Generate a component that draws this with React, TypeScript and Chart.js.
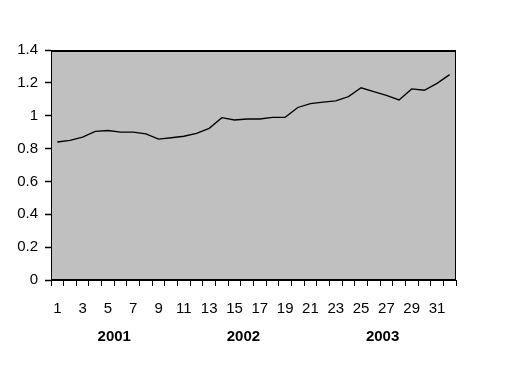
import React, { useEffect, useRef } from "react";
import { Chart, registerables } from "chart.js";

Chart.register(...registerables);

const periods: string[] = Array.from({ length: 32 }, (_, i) => String(i + 1));
const values: number[] = [
  0.84, 0.85, 0.87, 0.905, 0.91, 0.9, 0.9, 0.89, 0.858, 0.866, 0.875, 0.893,
  0.923, 0.988, 0.974, 0.98, 0.98, 0.99, 0.99, 1.05, 1.073, 1.083, 1.09, 1.116,
  1.17, 1.146, 1.124, 1.096, 1.163, 1.155, 1.197, 1.25,
];
const years: string[] = ["2001", "2002", "2003"];
const yearCenters: number[] = [4.5, 14.7, 25.7];

const FONT = "'Liberation Sans Narrow', 'Arial Narrow', 'Liberation Sans', Arial, sans-serif";

const areaPlugin = {
  id: "areaPlugin",
  beforeDraw(chart: any) {
    const { ctx, chartArea: a } = chart;
    ctx.save();
    ctx.fillStyle = "#ffffff";
    ctx.fillRect(0, 0, chart.width, chart.height);
    ctx.fillStyle = "#c0c0c0";
    ctx.fillRect(a.left, a.top, a.right - a.left, a.bottom - a.top);
    ctx.restore();
  },
  afterDatasetsDraw(chart: any) {
    const { ctx, chartArea: a } = chart;
    ctx.save();
    ctx.strokeStyle = "#000";
    ctx.lineWidth = 1;
    ctx.strokeRect(a.left + 0.5, a.top + 0.5, a.right - a.left - 1, a.bottom - a.top - 1);
    ctx.lineWidth = 2;
    ctx.beginPath();
    ctx.moveTo(a.left, a.top + 1);
    ctx.lineTo(a.right, a.top + 1);
    ctx.stroke();
    ctx.restore();
  },
  afterDraw(chart: any) {
    const { ctx } = chart;
    const xs = chart.scales.x;
    ctx.save();
    ctx.fillStyle = "#000";
    ctx.font = "bold 15px " + FONT;
    ctx.textAlign = "center";
    ctx.textBaseline = "middle";
    years.forEach((y, i) => {
      ctx.fillText(y, xs.getPixelForValue(yearCenters[i]), 337);
    });
    ctx.restore();
  },
};

export default function App() {
  const ref = useRef<HTMLCanvasElement>(null);
  useEffect(() => {
    if (!ref.current) return;
    const chart = new Chart(ref.current, {
      type: "line",
      data: {
        labels: periods,
        datasets: [
          {
            data: values,
            borderColor: "#000",
            borderWidth: 1.3,
            pointRadius: 0,
            tension: 0,
            fill: false,
          },
        ],
      },
      options: {
        animation: false,
        responsive: false,
        layout: { padding: { top: 50, right: 56, left: 0, bottom: 0 } },
        plugins: { legend: { display: false }, tooltip: { enabled: false } },
        scales: {
          x: {
            offset: true,
            grid: {
              display: true,
              offset: true,
              drawOnChartArea: false,
              drawTicks: true,
              tickLength: 6,
              color: "#000",
              tickColor: "#000",
              tickWidth: 1,
              lineWidth: 1,
            },
            border: { display: true, color: "#000" },
            ticks: {
              autoSkip: false,
              maxRotation: 0,
              minRotation: 0,
              padding: 14,
              color: "#000",
              font: { family: FONT, size: 15 },
              callback: (_v: any, i: number) => (i % 2 === 0 ? periods[i] : ""),
            },
            afterFit: (s: any) => {
              s.height = 104;
            },
          },
          y: {
            min: 0,
            max: 1.4,
            grid: {
              display: true,
              drawOnChartArea: false,
              drawTicks: true,
              tickLength: 6,
              color: "#000",
              tickColor: "#000",
              tickWidth: 1.5,
              lineWidth: 1,
            },
            border: { display: true, color: "#000" },
            ticks: {
              stepSize: 0.2,
              padding: 7,
              color: "#000",
              font: { family: FONT, size: 15 },
              callback: (v: any) => String(Math.round(Number(v) * 10) / 10),
            },
            afterFit: (s: any) => {
              s.width = 51;
            },
          },
        },
      },
      plugins: [areaPlugin],
    });
    return () => chart.destroy();
  }, []);
  return (
    <div style={{ position: "absolute", left: 0, top: 0, width: 512, height: 384, background: "#fff" }}>
      <canvas ref={ref} width={512} height={384} />
    </div>
  );
}
